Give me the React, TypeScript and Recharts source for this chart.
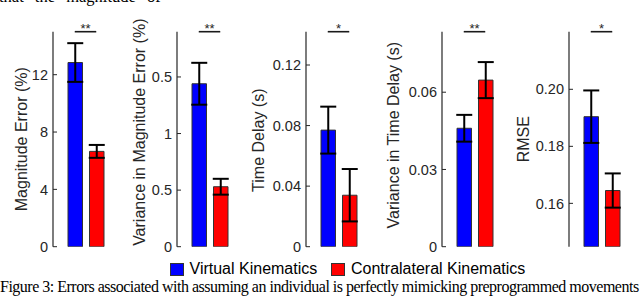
import React from "react";
import {
  BarChart,
  Bar,
  XAxis,
  YAxis,
  ErrorBar,
  Cell,
  ReferenceLine,
  Label
} from "recharts";

const groups = ["Virtual Kinematics", "Contralateral Kinematics"];
const groupColors = ["#0000FF", "#FF0000"];

const magnitudeError = [12.85, 6.65];
const magnitudeErrorSe = [1.35, 0.45];
const magnitudeVariance = [1.44, 0.53];
const magnitudeVarianceSe = [0.185, 0.07];
const timeDelay = [0.077, 0.034];
const timeDelaySe = [0.0155, 0.0173];
const delayVariance = [0.046, 0.0647];
const delayVarianceSe = [0.0052, 0.007];
const rmse = [0.1904, 0.1645];
const rmseSe = [0.0092, 0.006];

const yLabels = [
  "Magnitude Error (%)",
  "Variance in Magnitude Error (%)",
  "Time Delay (s)",
  "Variance in Time Delay (s)",
  "RMSE"
];
const significance = ["**", "**", "*", "**", "*"];

const magnitudeTicks = [0, 4, 8, 12];
const varianceTicks = [0, 0.5, 1, 1.5];
const varianceTickLabels = ["0", "0.5", "1", "0.5"];
const delayTicks = [0, 0.04, 0.08, 0.12];
const delayVarianceTicks = [0, 0.03, 0.06];
const rmseTicks = [0.16, 0.18, 0.2];

const FONT = "'Liberation Sans', Arial, Helvetica, sans-serif";
const SERIF = "'Liberation Serif', 'Times New Roman', Times, serif";
const AXIS = "#262626";

const toRows = (values: number[], errors: number[]) =>
  groups.map((g, i) => ({ group: g, value: values[i], err: errors[i] }));

const panels = [
  {
    rows: toRows(magnitudeError, magnitudeErrorSe),
    domain: [0, 15],
    ticks: magnitudeTicks,
    fmt: (v: number) => String(v),
    axisX: 53,
    labelDx: 31,
    labelDy: 0
  },
  {
    rows: toRows(magnitudeVariance, magnitudeVarianceSe),
    domain: [0, 1.9],
    ticks: varianceTicks,
    fmt: (v: number) => varianceTickLabels[varianceTicks.indexOf(v)],
    axisX: 176.5,
    labelDx: 37,
    labelDy: -7
  },
  {
    rows: toRows(timeDelay, timeDelaySe),
    domain: [0, 0.142],
    ticks: delayTicks,
    fmt: (v: number) => (v === 0 ? "0" : v.toFixed(2)),
    axisX: 306,
    labelDx: 47,
    labelDy: 1
  },
  {
    rows: toRows(delayVariance, delayVarianceSe),
    domain: [0, 0.0835],
    ticks: delayVarianceTicks,
    fmt: (v: number) => (v === 0 ? "0" : v.toFixed(2)),
    axisX: 442,
    labelDx: 48,
    labelDy: -4
  },
  {
    rows: toRows(rmse, rmseSe),
    domain: [0.1448, 0.2202],
    ticks: rmseTicks,
    fmt: (v: number) => v.toFixed(2),
    axisX: 569,
    labelDx: 45,
    labelDy: 0
  }
];

const LEFT_W = 60;
const PLOT_W = 65;
const CHART_H = 260;

const YLabel = (text: string, dx: number, dy: number) => (props: any) => {
  const vb = props.viewBox || {};
  const cx = vb.x + vb.width - dx;
  const cy = vb.y + vb.height / 2 + dy;
  return (
    <text
      x={cx}
      y={cy}
      transform={`rotate(-90 ${cx} ${cy})`}
      textAnchor="middle"
      dominantBaseline="central"
      fontSize={16}
      fontFamily={FONT}
      fill={AXIS}
    >
      {text}
    </text>
  );
};

function Panel({ p, index }: { p: (typeof panels)[number]; index: number }) {
  return (
    <div style={{ position: "absolute", left: p.axisX - LEFT_W, top: 0 }}>
      <BarChart
        width={LEFT_W + PLOT_W}
        height={CHART_H}
        data={p.rows}
        margin={{ top: 31.7, right: 0, bottom: 13.3, left: 0 }}
        barSize={14.5}
      >
        <XAxis
          dataKey="group"
          tick={false}
          tickLine={false}
          height={0}
          padding={{ left: 11, right: 11 }}
          axisLine={{ stroke: AXIS, strokeWidth: 1.2 }}
        />
        <YAxis
          width={LEFT_W}
          domain={p.domain}
          ticks={p.ticks}
          tickFormatter={p.fmt}
          interval={0}
          allowDataOverflow
          tickSize={-4}
          tickMargin={9}
          tickLine={{ stroke: AXIS, strokeWidth: 1 }}
          axisLine={{ stroke: AXIS, strokeWidth: 1.2 }}
          tick={{ fill: AXIS, fontSize: 14.5, fontFamily: FONT }}
        >
          <Label content={YLabel(yLabels[index], p.labelDx, p.labelDy)} />
        </YAxis>
        <ReferenceLine
          segment={[
            { x: groups[0], y: p.domain[1] },
            { x: groups[1], y: p.domain[1] }
          ]}
          stroke="#1a1a1a"
          strokeWidth={1.6}
          ifOverflow="visible"
          label={{
            value: significance[index],
            position: "top",
            offset: -1,
            fontSize: 13,
            fontFamily: FONT,
            fill: AXIS
          }}
        />
        <Bar
          dataKey="value"
          stroke="#333333"
          strokeWidth={1}
          isAnimationActive={false}
        >
          {p.rows.map((r, i) => (
            <Cell key={r.group} fill={groupColors[i]} />
          ))}
          <ErrorBar
            dataKey="err"
            direction="y"
            width={8}
            stroke="#000"
            strokeWidth={2}
          />
        </Bar>
      </BarChart>
    </div>
  );
}

export default function App() {
  const legendX = [169.5, 331];
  return (
    <div
      style={{
        position: "absolute",
        left: 0,
        top: 0,
        width: 640,
        height: 296,
        background: "#fff",
        overflow: "hidden"
      }}
    >
      <div
        style={{
          position: "absolute",
          left: -1,
          top: -13,
          fontFamily: SERIF,
          fontSize: 16.5,
          lineHeight: "20px",
          wordSpacing: 7,
          whiteSpace: "nowrap",
          color: "#000"
        }}
      >
        that the magnitude of
      </div>
      {panels.map((p, i) => (
        <Panel key={i} p={p} index={i} />
      ))}
      {groups.map((g, i) => (
        <div
          key={g}
          style={{
            position: "absolute",
            left: legendX[i],
            top: 260,
            height: 18,
            display: "flex",
            alignItems: "center",
            fontFamily: FONT,
            fontSize: 16,
            color: "#000",
            whiteSpace: "nowrap"
          }}
        >
          <span
            style={{
              display: "inline-block",
              width: 12,
              height: 11,
              background: groupColors[i],
              border: "1px solid #333",
              marginRight: 6
            }}
          />
          {g}
        </div>
      ))}
      <div
        style={{
          position: "absolute",
          left: 0,
          top: 278,
          fontFamily: SERIF,
          fontSize: 16,
          lineHeight: "18px",
          letterSpacing: -0.5,
          whiteSpace: "nowrap",
          color: "#000"
        }}
      >
        Figure 3: Errors associated with assuming an individual is perfectly
        mimicking preprogrammed movements
      </div>
    </div>
  );
}
